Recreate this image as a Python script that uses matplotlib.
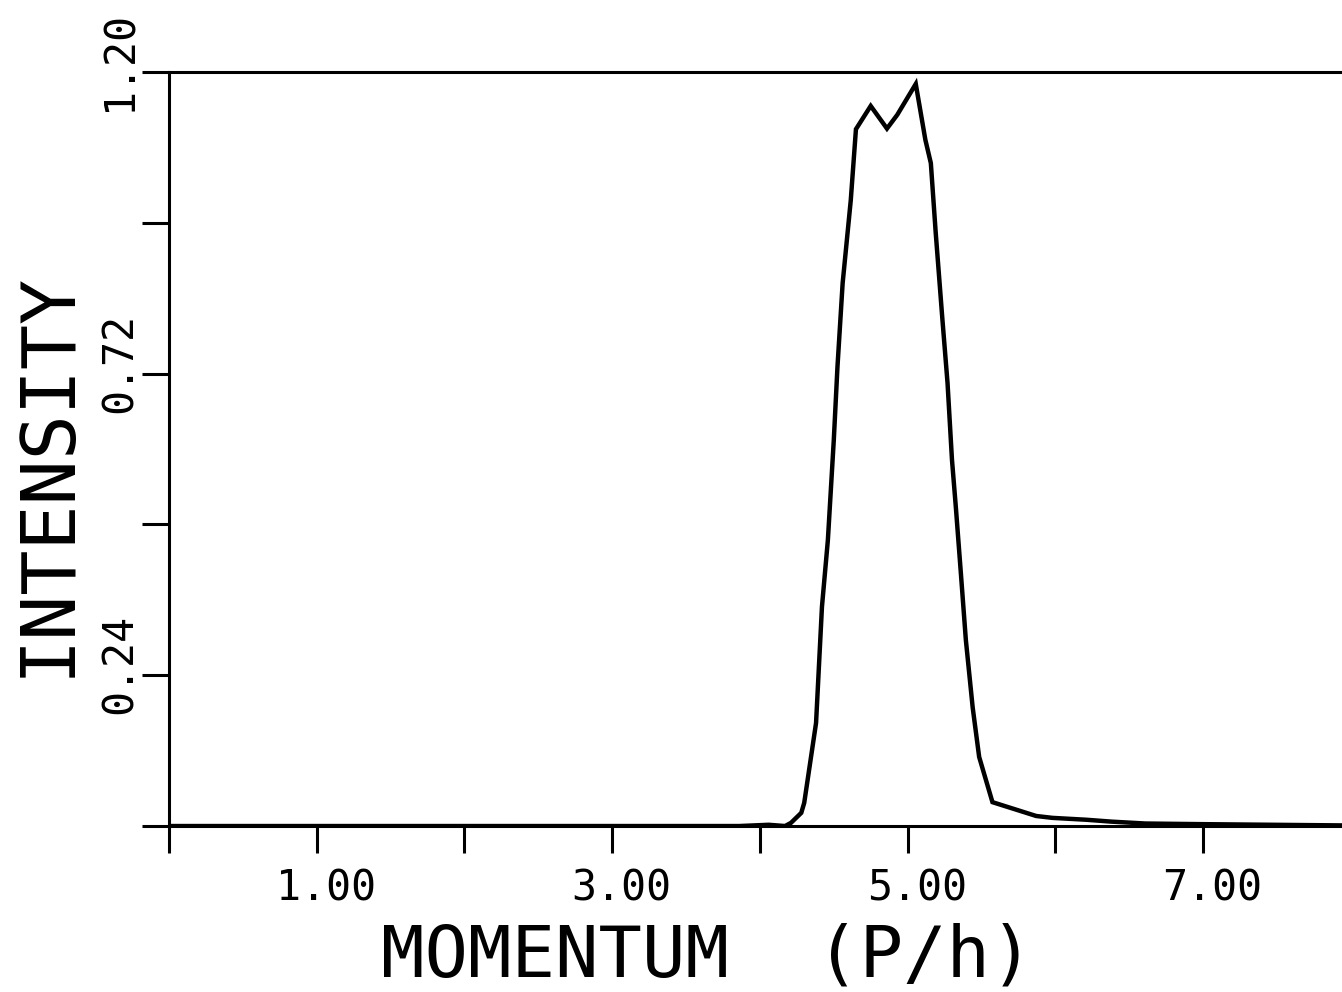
import matplotlib
matplotlib.use("Agg")
import matplotlib.pyplot as plt
from matplotlib.transforms import ScaledTranslation

# momentum (P/h) and intensity of the measured profile
momentum = [0.0, 3.86, 4.06, 4.17, 4.21, 4.28, 4.30, 4.38, 4.42, 4.46, 4.50,
            4.525, 4.56, 4.615, 4.65, 4.75, 4.86, 4.93, 5.055, 5.12, 5.157,
            5.19, 5.234, 5.27, 5.30, 5.326, 5.36, 5.394, 5.44, 5.484, 5.574,
            5.87, 5.98, 6.21, 6.38, 6.61, 6.99, 7.94]
intensity = [0.0, 0.0, 0.002, 0.0, 0.005, 0.021, 0.037, 0.164, 0.349, 0.455,
             0.614, 0.731, 0.864, 0.996, 1.109, 1.146, 1.110, 1.132, 1.181,
             1.092, 1.055, 0.944, 0.810, 0.705, 0.583, 0.508, 0.403, 0.296,
             0.189, 0.110, 0.038, 0.016, 0.013, 0.010, 0.007, 0.004, 0.003,
             0.001]

x_ticks = [0, 1, 2, 3, 4, 5, 6, 7]
x_labels = ["", "1.00", "", "3.00", "", "5.00", "", "7.00"]
y_ticks = [0.0, 0.24, 0.48, 0.72, 0.96, 1.20]
y_labels = ["", "0.24", "", "0.72", "", "1.20"]

MONO = ["DejaVu Sans Mono"]

fig = plt.figure(figsize=(13.42, 9.92), dpi=100)
ax = fig.add_axes([0.1259, 0.1673, 0.8741, 0.7601])

ax.plot(momentum, intensity, color="black", lw=3.2, solid_joinstyle="miter")
ax.set_xlim(0, 7.94)
ax.set_ylim(0, 1.20)

for side in ("left", "bottom", "top"):
    ax.spines[side].set_linewidth(2.2)
ax.spines["right"].set_visible(False)

ax.set_xticks(x_ticks)
ax.set_xticklabels(x_labels, family=MONO, fontsize=30)
ax.set_yticks(y_ticks)
ax.set_yticklabels(y_labels, family=MONO, fontsize=30, rotation=90,
                   va="center", ha="right")
ax.tick_params(axis="both", direction="out", length=19.5, width=2.2)
ax.tick_params(axis="x", pad=10)
ax.tick_params(axis="y", pad=1)

# nudge the tick labels like the plotter output
for lab in ax.get_xticklabels():
    lab.set_transform(lab.get_transform() + ScaledTranslation(0.09, 0, fig.dpi_scale_trans))
for lab in ax.get_yticklabels():
    lab.set_transform(lab.get_transform() + ScaledTranslation(0, 0.11, fig.dpi_scale_trans))

ax.set_xlabel("MOMENTUM  (P/h)", family=MONO, fontsize=52, va="baseline")
ax.xaxis.set_label_coords(0.459, -0.2002)
ax.set_ylabel("INTENSITY", family=MONO, fontsize=54, va="baseline")
ax.yaxis.set_label_coords(-0.0852, 0.4668)

fig.savefig("out.png", dpi=100, facecolor="white")
